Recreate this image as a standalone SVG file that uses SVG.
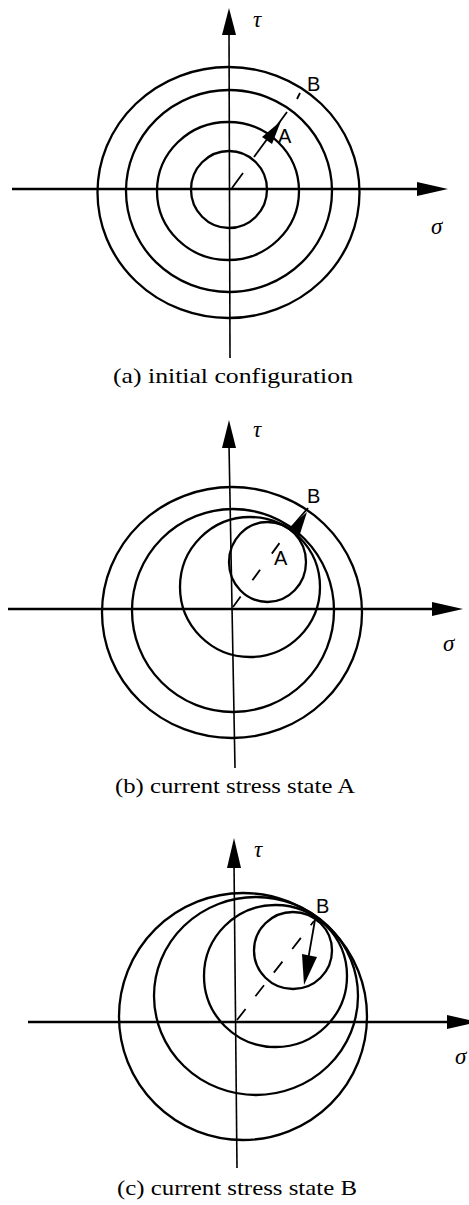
<svg xmlns="http://www.w3.org/2000/svg" width="469" height="1205" viewBox="0 0 469 1205">
<style>
.c{fill:none;stroke:#000;stroke-width:2.3}
.ax{stroke:#000;stroke-width:2.4;fill:none}
.ay{stroke:#000;stroke-width:1.6;fill:none}
.ah{fill:#000;stroke:none}
.d{stroke:#000;stroke-width:1.8;fill:none;stroke-dasharray:13 20}
.s{stroke:#000;stroke-width:1.8;fill:none}
.g{font-family:"Liberation Serif","DejaVu Serif",serif;font-style:italic;font-size:23px;fill:#000}
.p{font-family:"Liberation Sans","DejaVu Sans",sans-serif;font-size:20px;fill:#000}
.cap{font-family:"Liberation Serif","DejaVu Serif",serif;font-size:21px;fill:#000}
</style>
<rect width="469" height="1205" fill="#fff"/>

<g id="panel-a">
  <g id="a-axes">
    <line class="ax" x1="12" y1="189" x2="420" y2="189"/>
    <polygon class="ah" points="448,189 417,182 417,196"/>
    <line class="ay" x1="229" y1="30" x2="230" y2="358"/>
    <polygon class="ah" points="229,8 222,35 236,35"/>
  </g>
  <g id="a-circles">
    <ellipse class="c" cx="229" cy="189.5" rx="38" ry="38.5"/>
    <ellipse class="c" cx="228" cy="191" rx="71" ry="69"/>
    <ellipse class="c" cx="229" cy="191" rx="103" ry="101"/>
    <ellipse class="c" cx="228.5" cy="192.5" rx="131" ry="125.5"/>
  </g>
  <g id="a-path">
    <line class="s" x1="232" y1="188" x2="243" y2="173"/>
    <line class="s" x1="254" y1="157" x2="287" y2="112"/>
    <polygon class="ah" points="281,121 272,144 262,137"/>
    <line class="s" x1="297" y1="99" x2="300" y2="93"/>
  </g>
  <text class="g" x="253" y="27">τ</text>
  <text class="g" x="431" y="234">σ</text>
  <text class="p" x="307" y="91">B</text>
  <text class="p" x="278" y="143">A</text>
  <text class="cap" x="113" y="383" textLength="240" lengthAdjust="spacingAndGlyphs">(a) initial configuration</text>
</g>

<g id="panel-b">
  <g id="b-axes">
    <line class="ax" x1="8" y1="609" x2="435" y2="609"/>
    <polygon class="ah" points="463,609 432,602 432,616"/>
    <line class="ay" x1="229" y1="445" x2="235" y2="768"/>
    <polygon class="ah" points="229,420 222,448 236,448"/>
  </g>
  <g id="b-circles">
    <ellipse class="c" cx="232" cy="612.5" rx="130" ry="125.5"/>
    <ellipse class="c" cx="233" cy="610.5" rx="101" ry="101.5"/>
    <ellipse class="c" cx="250" cy="587" rx="70" ry="70"/>
    <ellipse class="c" cx="267.5" cy="562" rx="38.5" ry="40"/>
  </g>
  <g id="b-path">
    <line class="d" x1="233" y1="607" x2="289" y2="530"/>
    <line class="s" x1="289" y1="530" x2="308" y2="508"/>
    <polygon class="ah" points="307,512 299,537 289,528"/>
  </g>
  <text class="g" x="253" y="437">τ</text>
  <text class="g" x="443" y="651">σ</text>
  <text class="p" x="307" y="503">B</text>
  <text class="p" x="274" y="565">A</text>
  <text class="cap" x="115" y="793" textLength="240" lengthAdjust="spacingAndGlyphs">(b) current stress state A</text>
</g>

<g id="panel-c">
  <g id="c-axes">
    <line class="ax" x1="28" y1="1022" x2="450" y2="1022"/>
    <polygon class="ah" points="478,1022 447,1015 447,1029"/>
    <line class="ay" x1="234" y1="862" x2="237" y2="1168"/>
    <polygon class="ah" points="234,838 227,868 241,868"/>
  </g>
  <g id="c-circles">
    <ellipse class="c" cx="243" cy="1016.5" rx="124" ry="123.5"/>
    <ellipse class="c" cx="256" cy="996" rx="102" ry="99"/>
    <ellipse class="c" cx="275.5" cy="976" rx="71.5" ry="71"/>
    <ellipse class="c" cx="293" cy="950.5" rx="39" ry="38.5"/>
  </g>
  <g id="c-path">
    <line class="d" x1="237" y1="1020" x2="314" y2="921" style="stroke-dasharray:14 16"/>
    <line class="s" x1="315" y1="920" x2="308" y2="960"/>
    <polygon class="ah" points="304,985 302,954 317,957"/>
  </g>
  <text class="g" x="254" y="857">τ</text>
  <text class="g" x="455" y="1064">σ</text>
  <text class="p" x="316" y="913">B</text>
  <text class="cap" x="117" y="1195" textLength="240" lengthAdjust="spacingAndGlyphs">(c) current stress state B</text>
</g>
</svg>
